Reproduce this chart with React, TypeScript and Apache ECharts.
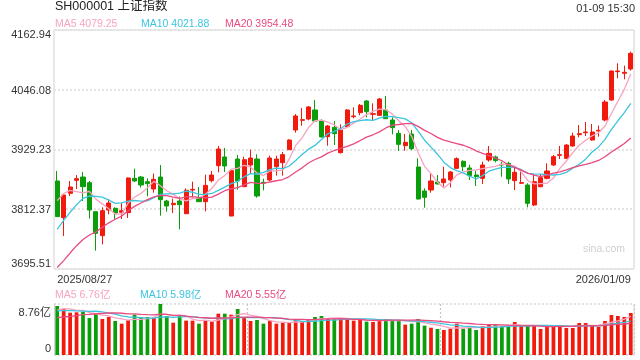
import React, { useEffect, useRef } from 'react';
import * as echarts from 'echarts';

const dates = [
  '2025/08/27','2025/08/28','2025/08/29',
  '2025/09/01','2025/09/02','2025/09/03','2025/09/04','2025/09/05','2025/09/08','2025/09/09','2025/09/10','2025/09/11','2025/09/12',
  '2025/09/15','2025/09/16','2025/09/17','2025/09/18','2025/09/19','2025/09/22','2025/09/23','2025/09/24','2025/09/25','2025/09/26',
  '2025/09/29','2025/09/30',
  '2025/10/09','2025/10/10','2025/10/13','2025/10/14','2025/10/15','2025/10/16','2025/10/17','2025/10/20','2025/10/21','2025/10/22',
  '2025/10/23','2025/10/24','2025/10/27','2025/10/28','2025/10/29','2025/10/30','2025/10/31',
  '2025/11/03','2025/11/04','2025/11/05','2025/11/06','2025/11/07','2025/11/10','2025/11/11','2025/11/12','2025/11/13','2025/11/14',
  '2025/11/17','2025/11/18','2025/11/19','2025/11/20','2025/11/21','2025/11/24','2025/11/25','2025/11/26','2025/11/27','2025/11/28',
  '2025/12/01','2025/12/02','2025/12/03','2025/12/04','2025/12/05','2025/12/08','2025/12/09','2025/12/10','2025/12/11','2025/12/12',
  '2025/12/15','2025/12/16','2025/12/17','2025/12/18','2025/12/19','2025/12/22','2025/12/23','2025/12/24','2025/12/25','2025/12/26',
  '2025/12/29','2025/12/30','2025/12/31',
  '2026/01/05','2026/01/06','2026/01/07','2026/01/08','2026/01/09',
];

const opens = [
  3867.6, 3795.9, 3843.5, 3868.9, 3875.4, 3864.4, 3807.6, 3760.7, 3810.9, 3814.2,
  3806.3, 3805.7, 3872.8, 3875.4, 3866.3, 3852.0, 3875.4, 3828.5, 3821.3, 3828.5,
  3803.7, 3850.0, 3835.0, 3827.2, 3868.3, 3897.6, 3914.6, 3799.2, 3910.6, 3856.5,
  3898.9, 3910.6, 3865.0, 3869.6, 3895.7, 3903.5, 3928.9, 3967.4, 3986.3, 3988.9,
  4006.5, 3985.6, 3954.3, 3972.6, 3923.0, 3973.9, 3993.4, 4001.3, 4024.1, 3998.0,
  3996.0, 4006.5, 3986.9, 3960.8, 3936.7, 3959.5, 3895.0, 3848.1, 3850.0, 3865.7,
  3864.4, 3869.6, 3892.4, 3906.1, 3893.0, 3879.3, 3872.8, 3908.7, 3914.6, 3900.2,
  3902.2, 3868.3, 3863.1, 3859.8, 3820.7, 3856.5, 3872.8, 3898.9, 3917.8, 3911.9,
  3936.1, 3958.2, 3962.1, 3947.8, 3965.4, 3986.9, 4026.0, 4081.5, 4078.2, 4086.7,
];
const closes = [
  3797.9, 3840.2, 3855.9, 3872.2, 3856.5, 3810.9, 3765.3, 3809.6, 3824.6, 3805.0,
  3809.6, 3873.5, 3867.6, 3859.8, 3862.4, 3870.9, 3831.1, 3818.7, 3823.9, 3821.3,
  3849.4, 3851.3, 3827.2, 3859.1, 3879.3, 3930.2, 3897.0, 3887.8, 3867.6, 3909.3,
  3912.6, 3838.3, 3863.7, 3912.6, 3910.6, 3919.1, 3947.8, 3994.8, 3987.6, 4012.4,
  3984.9, 3953.7, 3975.2, 3960.2, 3967.4, 4006.5, 3994.8, 4015.6, 4003.2, 3999.3,
  4028.0, 3989.5, 3971.9, 3939.3, 3943.2, 3930.8, 3832.4, 3835.7, 3867.6, 3861.8,
  3871.5, 3885.2, 3911.3, 3895.6, 3878.0, 3876.1, 3898.9, 3921.7, 3907.4, 3898.9,
  3871.5, 3884.6, 3864.4, 3823.9, 3866.3, 3874.1, 3887.2, 3915.2, 3919.1, 3938.0,
  3955.6, 3960.2, 3963.4, 3963.4, 3966.7, 4022.1, 4082.8, 4082.8, 4080.2, 4117.3,
];
const lows = [
  3797.9, 3760.1, 3838.3, 3852.0, 3828.5, 3794.0, 3731.4, 3743.7, 3802.4, 3793.3,
  3793.3, 3795.3, 3865.7, 3854.6, 3837.6, 3844.8, 3799.8, 3807.6, 3805.0, 3773.1,
  3803.0, 3835.7, 3826.5, 3808.3, 3865.0, 3884.6, 3885.2, 3798.5, 3850.7, 3856.0,
  3882.6, 3835.0, 3849.4, 3867.6, 3878.1, 3878.1, 3928.3, 3962.2, 3975.8, 3986.3,
  3983.7, 3953.0, 3936.7, 3938.0, 3921.7, 3973.0, 3990.2, 3996.1, 3992.1, 3986.3,
  3994.8, 3989.0, 3958.9, 3926.3, 3926.9, 3927.6, 3831.5, 3815.5, 3844.8, 3861.0,
  3856.5, 3855.2, 3891.0, 3887.2, 3869.6, 3857.8, 3861.8, 3905.4, 3904.1, 3876.1,
  3861.8, 3850.0, 3862.5, 3816.1, 3818.7, 3855.5, 3870.9, 3897.0, 3910.6, 3911.0,
  3934.8, 3953.0, 3955.6, 3946.5, 3954.3, 3984.3, 4024.7, 4068.4, 4066.5, 4083.4,
];
const highs = [
  3887.2, 3841.5, 3867.6, 3879.3, 3885.2, 3867.6, 3808.0, 3816.1, 3832.4, 3816.1,
  3824.6, 3874.5, 3891.7, 3877.4, 3872.8, 3882.0, 3898.9, 3830.5, 3833.1, 3837.0,
  3853.3, 3866.3, 3855.9, 3880.0, 3887.2, 3936.1, 3932.2, 3889.0, 3918.5, 3915.2,
  3928.9, 3919.8, 3872.2, 3917.2, 3917.2, 3924.3, 3949.1, 3998.7, 4010.4, 4014.3,
  4026.0, 3988.2, 3977.2, 3984.9, 3978.4, 4008.4, 4011.7, 4018.2, 4026.0, 4019.5,
  4030.0, 4033.9, 3992.1, 3967.4, 3959.5, 3967.4, 3912.0, 3853.3, 3881.3, 3879.3,
  3895.6, 3887.2, 3913.9, 3908.0, 3899.6, 3887.8, 3905.4, 3936.1, 3917.2, 3905.4,
  3905.4, 3895.6, 3889.1, 3863.1, 3879.3, 3881.3, 3902.2, 3918.5, 3936.1, 3940.0,
  3962.1, 3977.1, 3983.0, 3979.1, 3975.8, 4026.0, 4083.4, 4097.8, 4093.2, 4120.6,
];
// closes of the 19 sessions before the first visible day (for the moving averages)
const priorCloses = [
  3573.21, 3559.95, 3583.31, 3617.6, 3633.99, 3639.67, 3635.13, 3647.55, 3665.92, 3683.46,
  3666.44, 3696.77, 3728.03, 3727.29, 3766.21, 3771.1, 3825.76, 3883.56, 3868.38,
];

// volume, 亿
const volumes = [
  8.42, 7.90, 7.27, 7.33, 7.44, 6.35, 7.04, 6.18, 6.53, 5.84,
  5.38, 5.95, 6.93, 6.53, 6.53, 6.35, 8.76, 6.70, 5.55, 6.81,
  5.90, 5.90, 5.38, 5.95, 5.73, 7.10, 7.10, 6.93, 7.90, 6.41,
  5.84, 6.01, 5.38, 5.90, 5.38, 5.55, 5.55, 6.01, 5.78, 6.13,
  6.53, 6.70, 6.30, 6.13, 6.18, 6.18, 5.90, 6.13, 5.73, 5.67,
  6.01, 6.18, 6.01, 5.90, 5.21, 5.38, 6.18, 5.04, 4.69, 4.47,
  4.29, 4.52, 5.38, 4.52, 4.87, 4.29, 4.98, 5.32, 5.21, 4.98,
  4.98, 5.67, 4.98, 4.98, 5.10, 4.47, 4.98, 5.10, 5.15, 4.64,
  4.64, 5.50, 5.50, 5.10, 4.81, 5.84, 6.87, 6.70, 6.53, 7.21,
];
const priorVolumes = [
  5.8, 4.9, 4.6, 4.7, 5.0, 5.1, 4.9, 5.2, 5.6, 6.4,
  8.0, 7.0, 8.1, 7.6, 6.9, 6.8, 7.4, 8.6, 7.4,
];

const priceTicks = [3695.51, 3812.37, 3929.23, 4046.08, 4162.94];
const volumeTicks = [0, 8.76];
const volumeTickLabels = ['0', '8.76亿'];
const dateTickLabels = ['2025/08/27', '2026/01/09'];
const volumeDividers = [30, 60];

const headerTitle = 'SH000001 上证指数';
const headerTime = '01-09 15:30';
const priceLegend = [
  { name: 'MA5', text: 'MA5 4079.25' },
  { name: 'MA10', text: 'MA10 4021.88' },
  { name: 'MA20', text: 'MA20 3954.48' },
];
const volumeLegend = [
  { name: 'MA5', text: 'MA5 6.76亿' },
  { name: 'MA10', text: 'MA10 5.98亿' },
  { name: 'MA20', text: 'MA20 5.55亿' },
];
const maPeriods = [5, 10, 20];

const RED = '#f2190d';
const GREEN = '#0b9e0b';
const MA_COLORS = ['#f7a3c2', '#3cc5df', '#ea4a80'];
const FONT = 'Arial, "Liberation Sans", "Noto Sans CJK SC", sans-serif';

function movingAverage(prior: number[], values: number[], n: number): number[] {
  const all = prior.concat(values);
  return values.map((_, i) => {
    const end = prior.length + i;
    let s = 0;
    for (let k = end - n + 1; k <= end; k++) s += all[k];
    return +(s / n).toFixed(3);
  });
}

export default function App() {
  const ref = useRef<HTMLDivElement>(null);
  useEffect(() => {
    document.body.style.margin = '0';
    const chart = echarts.init(ref.current!, null, { renderer: 'svg' });
    const candleData = opens.map((o, i) => [o, closes[i], lows[i], highs[i]]);
    const isUp = (i: number) => closes[i] >= opens[i];
    const pMin = priceTicks[0];
    const pMax = priceTicks[priceTicks.length - 1];
    const vMax = volumeTicks[volumeTicks.length - 1];
    const last = dates.length - 1;

    const priceMA = maPeriods.map((n, k) => ({
      type: 'line',
      name: 'MA' + n,
      xAxisIndex: 0,
      yAxisIndex: 0,
      data: movingAverage(priorCloses, closes, n),
      showSymbol: false,
      symbol: 'none',
      lineStyle: { color: MA_COLORS[k], width: 1.3 },
      z: 3,
    }));
    const volMA = maPeriods.map((n, k) => ({
      type: 'line',
      name: 'VMA' + n,
      xAxisIndex: 1,
      yAxisIndex: 1,
      data: movingAverage(priorVolumes, volumes, n),
      showSymbol: false,
      symbol: 'none',
      lineStyle: { color: MA_COLORS[k], width: 1.3 },
      z: 3,
    }));

    const legendX = [55, 141, 225];
    const vLegendX = [55, 140, 225];

    chart.setOption({
      animation: false,
      textStyle: { fontFamily: FONT },
      grid: [
        { left: 54, width: 580, top: 30, height: 239, show: true, borderColor: '#d2d2d2', borderWidth: 1, backgroundColor: 'transparent' },
        { left: 54, width: 580, top: 304, height: 51 },
      ],
      xAxis: [
        {
          type: 'category', gridIndex: 0, data: dates, boundaryGap: true,
          axisLine: { show: false }, axisTick: { show: false },
          splitLine: { show: false },
          axisLabel: {
            show: true,
            interval: (i: number) => i === 0 || i === last,
            formatter: (v: string, i: number) => (i === 0 ? dateTickLabels[0] : dateTickLabels[1]),
            alignMinLabel: 'left',
            alignMaxLabel: 'right',
            fontSize: 11, color: '#333', margin: 4, fontFamily: FONT,
          },
        },
        {
          type: 'category', gridIndex: 1, data: dates, boundaryGap: true,
          axisLine: { show: false }, axisTick: { show: false }, axisLabel: { show: false },
          splitLine: {
            show: true,
            interval: (i: number) => volumeDividers.indexOf(i) >= 0,
            lineStyle: { color: '#c4c4c4', type: [2, 2], width: 1.2 },
          },
        },
      ],
      yAxis: [
        {
          type: 'value', gridIndex: 0, min: pMin, max: pMax, scale: true,
          axisLine: { show: false }, axisTick: { show: false, customValues: priceTicks },
          splitLine: { show: true, lineStyle: { color: '#e3e3e3', type: [2, 2], width: 2 } },
          axisLabel: {
            customValues: priceTicks,
            fontSize: 11, color: '#333', margin: 3, fontFamily: FONT,
            formatter: (v: number) => {
              const s = v.toFixed(2);
              if (Math.abs(v - pMax) < 0.01) return '{t|' + s + '}';
              if (Math.abs(v - pMin) < 0.01) return '{b|' + s + '}';
              return s;
            },
            rich: {
              t: { padding: [8, 0, 0, 0], fontSize: 11, color: '#333', fontFamily: FONT },
              b: { padding: [0, 0, 12, 0], fontSize: 11, color: '#333', fontFamily: FONT },
            },
          },
        },
        {
          type: 'value', gridIndex: 1, min: 0, max: vMax,
          axisLine: { show: true, lineStyle: { color: '#d2d2d2', width: 1 } },
          axisTick: { show: false, customValues: volumeTicks },
          splitLine: { show: true, lineStyle: { color: '#d9d9d9', type: [2, 2], width: 1.5 } },
          axisLabel: {
            customValues: volumeTicks,
            fontSize: 11, color: '#333', margin: 3, fontFamily: FONT,
            formatter: (v: number) => {
              const idx = volumeTicks.findIndex((t) => Math.abs(t - v) < 1e-6);
              const s = volumeTickLabels[idx] ?? '';
              if (idx === volumeTicks.length - 1) return '{t|' + s + '}';
              return '{b|' + s + '}';
            },
            rich: {
              t: { padding: [15, 0, 0, 0], fontSize: 11, color: '#333', fontFamily: FONT },
              b: { padding: [0, 0, 14, 0], fontSize: 11, color: '#333', fontFamily: FONT },
            },
          },
        },
        {
          type: 'value', gridIndex: 1, min: 0, max: vMax, position: 'right',
          axisLine: { show: true, lineStyle: { color: '#d9d9d9', type: [2, 2], width: 1.5 } },
          axisTick: { show: false }, axisLabel: { show: false }, splitLine: { show: false },
        },
      ],
      series: [
        {
          type: 'candlestick',
          xAxisIndex: 0, yAxisIndex: 0,
          data: candleData,
          barWidth: '72%',
          itemStyle: { color: RED, color0: GREEN, borderColor: RED, borderColor0: GREEN, borderWidth: 1 },
          z: 2,
        },
        ...priceMA,
        {
          type: 'bar',
          xAxisIndex: 1, yAxisIndex: 1,
          data: volumes,
          barWidth: '58%',
          itemStyle: { color: (p: any) => (isUp(p.dataIndex) ? RED : GREEN) },
          z: 2,
        },
        ...volMA,
      ],
      graphic: [
        { type: 'text', left: 55, top: 0, style: { text: headerTitle, fontSize: 12.5, fill: '#222', fontFamily: FONT } },
        { type: 'text', right: 5, top: 2, style: { text: headerTime, fontSize: 11, fill: '#333', fontFamily: FONT } },
        ...priceLegend.map((l, k) => ({
          type: 'text', left: legendX[k], top: 18,
          style: { text: l.text, fontSize: 10.5, fill: MA_COLORS[k], fontFamily: FONT },
        })),
        ...volumeLegend.map((l, k) => ({
          type: 'text', left: vLegendX[k], top: 289,
          style: { text: l.text, fontSize: 10.5, fill: MA_COLORS[k], fontFamily: FONT },
        })),
        { type: 'text', left: 583, top: 243, style: { text: 'sina.com', fontSize: 10.5, fill: '#cfcfcf', fontFamily: FONT } },
      ],
    });
    return () => chart.dispose();
  }, []);
  return <div ref={ref} style={{ position: 'fixed', left: 0, top: 0, width: 640, height: 360 }} />;
}
